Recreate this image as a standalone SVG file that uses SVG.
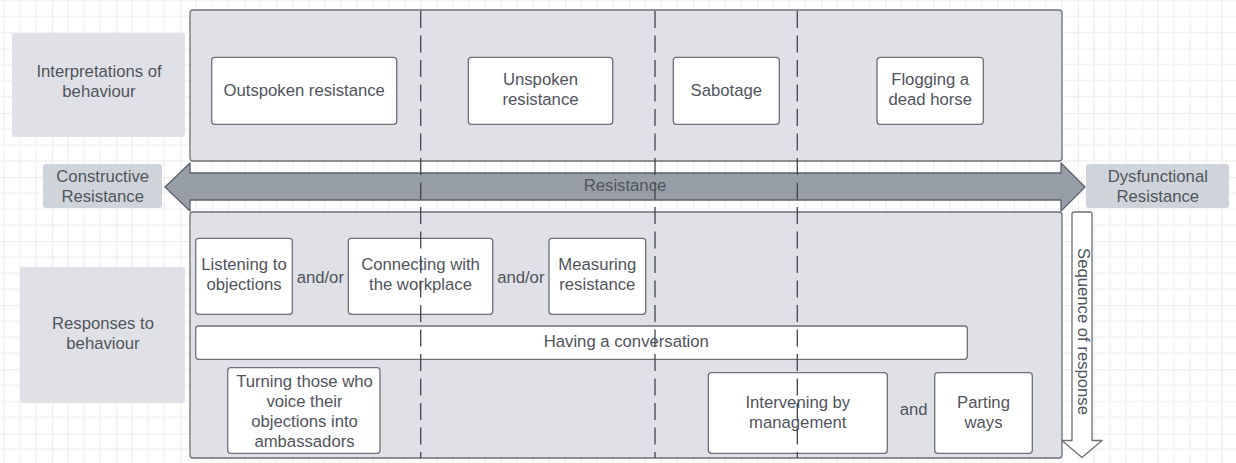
<svg xmlns="http://www.w3.org/2000/svg" width="1236" height="463" viewBox="0 0 1236 463">
  <defs>
    <pattern id="grid" patternUnits="userSpaceOnUse" x="-12.06" y="-15.42" width="64.12" height="64.12">
      <g stroke="#f1f1f1" stroke-width="1.5">
        <line x1="16.03" y1="0" x2="16.03" y2="64.12"/>
        <line x1="32.06" y1="0" x2="32.06" y2="64.12"/>
        <line x1="48.09" y1="0" x2="48.09" y2="64.12"/>
        <line x1="0" y1="16.03" x2="64.12" y2="16.03"/>
        <line x1="0" y1="32.06" x2="64.12" y2="32.06"/>
        <line x1="0" y1="48.09" x2="64.12" y2="48.09"/>
      </g>
      <g stroke="#e7e7e7" stroke-width="1.5">
        <line x1="0" y1="0" x2="0" y2="64.12"/>
        <line x1="0" y1="0" x2="64.12" y2="0"/>
      </g>
    </pattern>
    <style>
      text { font-family: "Liberation Sans", Arial, sans-serif; font-size: 16.7px; fill: #50545c; text-anchor: middle; }
      .panel { fill: #dfe1e6; stroke: #6d7077; stroke-width: 1.3; }
      .label { fill: #dfe1e6; }
      .endlabel { fill: #cfd4db; }
      .box { fill: #ffffff; stroke: #6d7077; stroke-width: 1.3; }
      .bigarrow { fill: #979ea8; stroke: #5c6068; stroke-width: 1.3; stroke-linejoin: round; }
      .seqarrow { fill: #ffffff; stroke: #6d7077; stroke-width: 1.3; stroke-linejoin: round; }
      .divider { stroke: #43464d; stroke-width: 1.3; stroke-dasharray: 17 7.5; fill: none; }
    </style>
  </defs>

  <rect x="0" y="0" width="1236" height="463" fill="#ffffff"/>
  <rect x="0" y="0" width="1236" height="463" fill="url(#grid)"/>

  <g id="panel-interpretations">
    <rect class="panel" x="190" y="10" width="872" height="151" rx="3"/>
  </g>
  <g id="panel-responses">
    <rect class="panel" x="190" y="212" width="872" height="246" rx="3"/>
  </g>

  <g id="label-interpretations">
    <rect class="label" x="12" y="33" width="173" height="104" rx="3"/>
    <text x="99" y="77.3">Interpretations of</text>
    <text x="99" y="97.3">behaviour</text>
  </g>
  <g id="label-responses">
    <rect class="label" x="20" y="267" width="165" height="136" rx="3"/>
    <text x="103" y="329.3">Responses to</text>
    <text x="103" y="349.3">behaviour</text>
  </g>
  <g id="label-constructive">
    <rect class="endlabel" x="43" y="164" width="119" height="44" rx="3"/>
    <text x="102.7" y="181.7">Constructive</text>
    <text x="102.7" y="201.7">Resistance</text>
  </g>
  <g id="label-dysfunctional">
    <rect class="endlabel" x="1086" y="164" width="143" height="44" rx="3"/>
    <text x="1157.8" y="181.7">Dysfunctional</text>
    <text x="1157.8" y="201.7">Resistance</text>
  </g>

  <g id="resistance-arrow">
    <polygon class="bigarrow" points="165,187 190,163 190,173 1061,173 1061,163 1085,187 1061,211 1061,200 190,200 190,211"/>
    <text x="625" y="190.5">Resistance</text>
  </g>

  <g id="sequence-arrow">
    <path class="seqarrow" d="M1074,212 L1090,212 Q1092,212 1092,214 L1092,440.5 L1102,440.5 L1082,457.5 L1062,440.5 L1072,440.5 L1072,214 Q1072,212 1074,212 Z"/>
    <text x="0" y="0" transform="translate(1082,331.5) rotate(90)" dy="4.5">Sequence of response</text>
  </g>

  <g id="outspoken-resistance">
    <rect class="box" x="211.7" y="57.3" width="185" height="67" rx="3"/>
    <text x="304.2" y="95.5">Outspoken resistance</text>
  </g>
  <g id="unspoken-resistance">
    <rect class="box" x="468.3" y="57.3" width="144.4" height="67" rx="3"/>
    <text x="540.5" y="85.2">Unspoken</text>
    <text x="540.5" y="105.2">resistance</text>
  </g>
  <g id="sabotage">
    <rect class="box" x="673.3" y="57.3" width="106" height="67" rx="3"/>
    <text x="726.3" y="95.5">Sabotage</text>
  </g>
  <g id="flogging-a-dead-horse">
    <rect class="box" x="877" y="57.3" width="106.3" height="67" rx="3"/>
    <text x="930.2" y="85.2">Flogging a</text>
    <text x="930.2" y="105.2">dead horse</text>
  </g>

  <g id="listening-to-objections">
    <rect class="box" x="195.7" y="238.3" width="96.6" height="76" rx="3"/>
    <text x="244" y="270.2">Listening to</text>
    <text x="244" y="290.2">objections</text>
  </g>
  <g id="andor-1">
    <text x="320.3" y="282.7">and/or</text>
  </g>
  <g id="connecting-with-the-workplace">
    <rect class="box" x="348.3" y="238.3" width="144.4" height="76" rx="3"/>
    <text x="420.5" y="270.2">Connecting with</text>
    <text x="420.5" y="290.2">the workplace</text>
  </g>
  <g id="andor-2">
    <text x="520.8" y="282.7">and/or</text>
  </g>
  <g id="measuring-resistance">
    <rect class="box" x="549" y="238.3" width="96.7" height="76" rx="3"/>
    <text x="597.3" y="270.2">Measuring</text>
    <text x="597.3" y="290.2">resistance</text>
  </g>
  <g id="having-a-conversation">
    <rect class="box" x="195.7" y="326" width="771.6" height="33.3" rx="3"/>
    <text x="626.3" y="346.9">Having a conversation</text>
  </g>
  <g id="turning-into-ambassadors">
    <rect class="box" x="227.7" y="367.7" width="152.3" height="85.6" rx="3"/>
    <text x="304.5" y="386.7">Turning those who</text>
    <text x="304.5" y="406.7">voice their</text>
    <text x="304.5" y="426.7">objections into</text>
    <text x="304.5" y="446.7">ambassadors</text>
  </g>
  <g id="intervening-by-management">
    <rect class="box" x="708.3" y="372.7" width="179" height="80.6" rx="3"/>
    <text x="797.8" y="408.3">Intervening by</text>
    <text x="797.8" y="428.3">management</text>
  </g>
  <g id="and">
    <text x="913.7" y="414.7">and</text>
  </g>
  <g id="parting-ways">
    <rect class="box" x="934.7" y="372.7" width="97.6" height="80.6" rx="3"/>
    <text x="983.5" y="408.3">Parting</text>
    <text x="983.5" y="428.3">ways</text>
  </g>

  <g id="connectors">
    <line class="divider" x1="420.7" y1="11" x2="420.7" y2="458"/>
    <line class="divider" x1="655" y1="11" x2="655" y2="458"/>
    <line class="divider" x1="797.3" y1="11" x2="797.3" y2="458"/>
  </g>
</svg>
